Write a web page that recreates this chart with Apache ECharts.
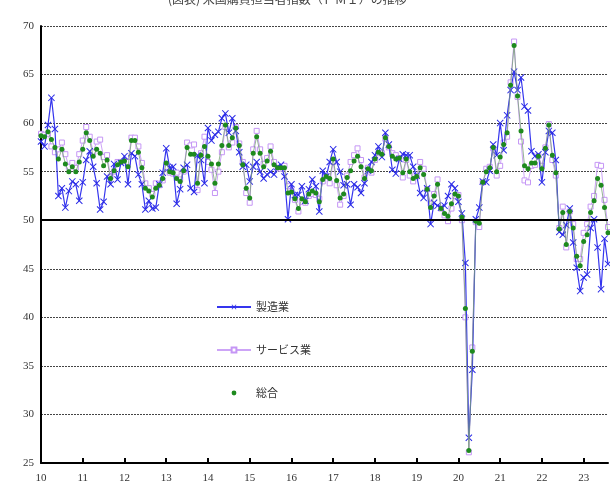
<!DOCTYPE html>
<html>
<head>
<meta charset="utf-8">
<script src="https://cdn.jsdelivr.net/npm/echarts/dist/echarts.min.js"></script>
<style>
html, body { margin: 0; padding: 0; background: #fff; }
#main { width: 610px; height: 484px; }
</style>
</head>
<body>
<div id="main"></div>
<script>
// year labels on the x axis (monthly data, Jan 2010 - Aug 2023)
var years = ['10', '11', '12', '13', '14', '15', '16', '17', '18', '19', '20', '21', '22', '23'];
var yTicks = [25, 30, 35, 40, 45, 50, 55, 60, 65, 70];

// 製造業
var mfg = [
  58.1, 57.6, 59.8, 62.6, 59.4, 52.5, 53.3, 51.3, 53.0, 54.0, 53.7, 52.0,
  53.9, 56.2, 57.1, 55.5, 53.8, 51.1, 51.9, 54.5, 53.7, 55.8, 54.2, 55.9,
  56.6, 53.7, 56.9, 56.6, 54.7, 53.7, 51.1, 52.0, 51.2, 51.3, 53.7, 54.9,
  57.4, 55.4, 55.5, 51.7, 53.2, 55.4, 55.7, 53.3, 52.9, 56.7, 56.2, 53.8,
  59.5, 58.2, 58.8, 59.1, 60.5, 61.0, 59.0, 60.5, 59.2, 57.0, 55.5, 55.7,
  54.0, 55.5, 56.0, 55.0, 54.3, 54.7, 55.0, 54.7, 55.5, 55.7, 54.5, 50.1,
  53.7, 52.6, 52.6, 53.5, 52.0, 53.2, 54.2, 53.5, 50.9, 55.1, 54.5, 56.0,
  57.3, 56.0, 55.0, 53.6, 53.7, 51.6, 53.7, 53.4, 52.8, 53.8, 55.1, 56.0,
  56.7, 57.6, 56.5, 59.0, 57.8, 55.2, 54.8, 56.3, 56.8, 56.7, 56.7, 55.5,
  54.6, 52.8, 52.3, 53.3, 49.6, 51.8, 51.5, 51.3, 51.5, 52.5, 53.7, 53.3,
  51.9, 50.7, 45.6, 27.6, 34.6, 50.1, 51.3, 54.0, 53.9, 55.1, 57.8, 56.7,
  60.0, 57.2, 60.8, 63.4, 65.3, 63.4, 64.7, 61.7, 61.3, 57.1, 56.6, 56.8,
  53.9, 57.0, 59.2, 59.0, 56.2, 48.8, 48.5, 49.5, 51.2, 47.7, 45.1, 42.7,
  44.1, 44.4, 49.2, 50.1, 47.2, 42.9, 48.1, 45.5
];

// サービス業
var svc = [
  58.9, 58.8, 58.9, 57.6, 57.0, 57.3, 58.0, 56.8, 55.5, 55.9, 55.4, 56.8,
  58.2, 59.6, 58.6, 57.0, 58.1, 58.3, 56.5, 56.7, 54.5, 55.0, 56.0, 56.0,
  56.1, 56.0, 58.5, 58.5, 57.6, 55.9, 53.8, 53.3, 52.7, 53.8, 53.6, 54.1,
  55.5, 54.9, 54.8, 54.9, 54.2, 55.0, 58.0, 57.7, 57.8, 53.1, 56.9, 58.6,
  56.0, 55.2, 52.8, 55.0, 57.0, 59.6, 57.5, 58.0, 59.6, 57.9, 56.0, 52.8,
  51.8, 57.3, 59.2, 57.3, 55.8, 56.4, 57.6, 56.0, 55.4, 55.3, 55.6, 53.5,
  53.0, 52.1, 50.9, 51.9, 51.8, 52.5, 52.7, 52.6, 52.2, 54.0, 54.5, 53.8,
  56.0, 53.6, 51.6, 52.5, 54.6, 56.0, 56.7, 57.4, 56.2, 54.4, 55.4, 54.9,
  56.2, 56.9, 56.9, 58.4, 57.5, 56.9, 56.7, 56.4, 54.4, 56.2, 54.6, 54.0,
  54.5, 56.0, 55.3, 53.2, 51.7, 52.7, 54.2, 51.2, 50.5, 49.9, 51.2, 52.5,
  52.6, 50.0, 40.0, 26.1, 36.9, 49.8, 49.3, 53.9, 55.3, 55.5, 57.4, 54.6,
  55.6, 58.0, 58.6, 64.2, 68.4, 62.7, 58.1, 54.1, 53.9, 55.6, 55.7, 56.6,
  55.6, 57.5, 59.9, 56.2, 54.6, 49.2, 51.4, 47.2, 50.9, 49.6, 46.0, 46.0,
  48.7, 49.6, 51.4, 52.5, 55.7, 55.6, 52.1, 49.3
];

// 総合
var comp = [
  58.7, 58.6, 59.1, 58.3, 57.5, 56.3, 57.3, 55.8, 55.0, 55.5, 55.0, 56.0,
  57.3, 59.0, 58.2, 56.6, 57.3, 56.9, 55.6, 56.2, 54.3, 55.1, 55.7, 56.0,
  56.1, 55.5, 58.2, 58.2, 57.0, 55.4, 53.3, 53.0, 52.4, 53.3, 53.6, 54.3,
  55.9, 55.0, 54.9, 54.3, 54.0, 55.1, 57.5, 56.8, 56.8, 53.8, 56.7, 57.6,
  56.6, 55.8, 53.8, 55.8, 57.7, 59.8, 57.7, 58.5, 59.5, 57.7, 55.7, 53.3,
  52.3, 56.9, 58.6, 56.9, 55.5, 56.1, 57.1, 55.7, 55.4, 55.4, 55.4, 52.8,
  52.9, 52.2, 51.2, 52.2, 51.9, 52.7, 53.0, 52.8, 51.9, 54.2, 54.5, 54.3,
  56.3, 54.1, 52.3, 52.7, 54.4, 55.1, 56.1, 56.6, 55.5, 54.3, 55.3, 55.1,
  56.3, 57.0, 56.8, 58.5, 57.6, 56.6, 56.3, 56.4, 54.9, 56.3, 55.0, 54.3,
  54.5, 55.4, 54.7, 53.2, 51.3, 52.5, 53.7, 51.2, 50.7, 50.4, 51.7, 52.7,
  52.5, 50.3, 40.9, 26.3, 36.5, 49.9, 49.7, 53.9, 55.0, 55.4, 57.5, 55.0,
  56.5, 57.8, 59.0, 63.9, 68.0, 62.8, 59.2, 55.6, 55.3, 55.9, 55.9, 56.6,
  55.3, 57.4, 59.8, 56.7, 54.9, 49.1, 50.8, 47.5, 50.9, 49.2, 46.3, 45.3,
  47.8, 48.5, 50.8, 52.0, 54.3, 53.6, 51.3, 48.7
];

// month categories like "10/1"
var cats = [];
years.forEach(function (y) {
    for (var k = 1; k <= 12; k++) {
        if (cats.length < mfg.length) cats.push(y + '/' + k);
    }
});

var serif = '"Liberation Serif", "DejaVu Serif", serif';
var gothic = '"Noto Sans CJK JP", "Noto Sans", sans-serif';
var xMark = 'path://M0,1L1,0L5,4L9,0L10,1L6,5L10,9L9,10L5,6L1,10L0,9L4,5Z';
var yearStart = function (i) { return i % 12 === 0; };

var myChart = echarts.init(document.getElementById('main'), null, {renderer: 'canvas'});

var option = {
    animation: false,
    backgroundColor: '#fff',
    graphic: [{
        type: 'text',
        x: 168,
        y: -7,
        style: {
            text: '(図表) 米国購買担当者指数（ＰＭＩ）の推移',
            fontSize: 12,
            fontFamily: gothic,
            fill: '#444'
        }
    }],
    grid: {left: 41, right: 2, top: 26, bottom: 21},
    legend: {
        orient: 'vertical',
        left: 216,
        top: 300,
        padding: 0,
        itemWidth: 34,
        itemHeight: 6,
        itemGap: 29,
        textStyle: {fontSize: 11, color: '#333', fontFamily: gothic, lineHeight: 14},
        data: [
            {name: '製造業'},
            {name: 'サービス業'},
            {name: '総合', lineStyle: {opacity: 0}}
        ]
    },
    xAxis: {
        type: 'category',
        boundaryGap: false,
        data: cats,
        axisLine: {lineStyle: {color: '#000', width: 2}},
        axisTick: {interval: yearStart, inside: true, length: 5, lineStyle: {color: '#000', width: 2}},
        axisLabel: {
            interval: yearStart,
            margin: 10,
            fontSize: 11,
            fontFamily: serif,
            color: '#333',
            formatter: function (v) { return v.split('/')[0]; }
        },
        splitLine: {show: false}
    },
    yAxis: {
        type: 'value',
        min: yTicks[0],
        max: yTicks[yTicks.length - 1],
        interval: 5,
        axisLine: {show: true, lineStyle: {color: '#000', width: 2}},
        axisTick: {show: false},
        axisLabel: {margin: 7, fontSize: 11, fontFamily: serif, color: '#333'},
        splitLine: {lineStyle: {color: '#444', width: 1, type: [2, 1]}}
    },
    series: [
        {
            name: '製造業',
            type: 'line',
            data: mfg,
            z: 3,
            showAllSymbol: true,
            symbol: xMark,
            symbolSize: 7,
            itemStyle: {color: '#2a2ae6'},
            lineStyle: {color: '#3535ee', width: 1.2},
            markLine: {
                silent: true,
                symbol: 'none',
                label: {show: false},
                lineStyle: {color: '#000', width: 2, type: 'solid'},
                data: [{yAxis: 50}]
            }
        },
        {
            name: 'サービス業',
            type: 'line',
            data: svc,
            z: 2,
            showAllSymbol: true,
            symbol: 'rect',
            symbolSize: 5,
            itemStyle: {color: '#fff', borderColor: '#c596f5', borderWidth: 1},
            lineStyle: {color: '#cda4f7', width: 1}
        },
        {
            name: '総合',
            type: 'line',
            data: comp,
            z: 4,
            showAllSymbol: true,
            symbol: 'circle',
            symbolSize: 5,
            itemStyle: {color: '#1e8a1e'},
            lineStyle: {color: '#7aa07a', width: 0.8}
        }
    ]
};

myChart.setOption(option);
window.onresize = myChart.resize;
</script>
</body>
</html>
